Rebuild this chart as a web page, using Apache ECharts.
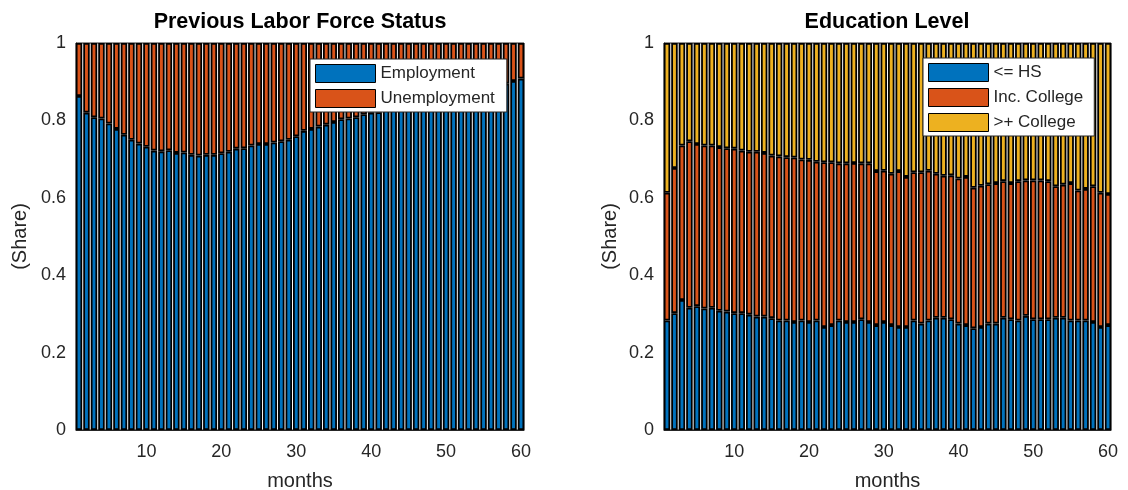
<!DOCTYPE html>
<html>
<head>
<meta charset="utf-8">
<script src="https://cdn.jsdelivr.net/npm/echarts@6/dist/echarts.min.js"></script>
<style>
  html, body { margin: 0; padding: 0; background: #fff; }
  #chart { width: 1128px; height: 490px; }
</style>
</head>
<body>
<div id="chart"></div>
<script>
// Month index 1..60 shared by both panels
const months = Array.from({ length: 60 }, (_, i) => i + 1);
const xTicks = [10, 20, 30, 40, 50, 60];

// Previous labor force status shares
const employment = [
  0.863, 0.820, 0.808, 0.805, 0.792, 0.778, 0.763, 0.750, 0.740, 0.732,
  0.722, 0.720, 0.723, 0.716, 0.717, 0.711, 0.709, 0.711, 0.711, 0.715,
  0.719, 0.727, 0.728, 0.735, 0.739, 0.739, 0.743, 0.746, 0.750, 0.759,
  0.773, 0.778, 0.784, 0.789, 0.796, 0.803, 0.805, 0.808, 0.816, 0.820,
  0.821, 0.827, 0.832, 0.837, 0.842, 0.847, 0.851, 0.855, 0.859, 0.863,
  0.867, 0.871, 0.875, 0.879, 0.883, 0.887, 0.891, 0.895, 0.902, 0.908
];
const unemployment = [
  0.137, 0.180, 0.192, 0.195, 0.208, 0.222, 0.237, 0.250, 0.260, 0.268,
  0.278, 0.280, 0.277, 0.284, 0.283, 0.289, 0.291, 0.289, 0.289, 0.285,
  0.281, 0.273, 0.272, 0.265, 0.261, 0.261, 0.257, 0.254, 0.250, 0.241,
  0.227, 0.222, 0.216, 0.211, 0.204, 0.197, 0.195, 0.192, 0.184, 0.180,
  0.179, 0.173, 0.168, 0.163, 0.158, 0.153, 0.149, 0.145, 0.141, 0.137,
  0.133, 0.129, 0.125, 0.121, 0.117, 0.113, 0.109, 0.105, 0.098, 0.092
];

// Education level shares
const highSchool = [
  0.283, 0.302, 0.336, 0.316, 0.320, 0.314, 0.316, 0.308, 0.306, 0.302,
  0.302, 0.298, 0.293, 0.293, 0.289, 0.283, 0.283, 0.279, 0.283, 0.279,
  0.283, 0.266, 0.271, 0.283, 0.279, 0.279, 0.286, 0.279, 0.271, 0.279,
  0.271, 0.266, 0.266, 0.283, 0.275, 0.283, 0.290, 0.290, 0.286, 0.275,
  0.271, 0.263, 0.266, 0.275, 0.275, 0.290, 0.286, 0.283, 0.295, 0.286,
  0.286, 0.286, 0.290, 0.290, 0.283, 0.283, 0.283, 0.279, 0.266, 0.271
];
const incCollege = [
  0.330, 0.375, 0.399, 0.430, 0.419, 0.421, 0.419, 0.423, 0.422, 0.425,
  0.420, 0.421, 0.426, 0.423, 0.420, 0.424, 0.422, 0.425, 0.416, 0.419,
  0.410, 0.426, 0.421, 0.406, 0.410, 0.411, 0.403, 0.410, 0.398, 0.391,
  0.391, 0.403, 0.388, 0.383, 0.391, 0.387, 0.372, 0.367, 0.372, 0.375,
  0.383, 0.363, 0.365, 0.360, 0.363, 0.353, 0.352, 0.360, 0.350, 0.359,
  0.359, 0.357, 0.340, 0.344, 0.355, 0.336, 0.340, 0.351, 0.347, 0.339
];
const college = [
  0.387, 0.323, 0.265, 0.254, 0.261, 0.265, 0.265, 0.269, 0.272, 0.273,
  0.278, 0.281, 0.281, 0.284, 0.291, 0.293, 0.295, 0.296, 0.301, 0.302,
  0.307, 0.308, 0.308, 0.311, 0.311, 0.310, 0.311, 0.311, 0.331, 0.330,
  0.338, 0.331, 0.346, 0.334, 0.334, 0.330, 0.338, 0.343, 0.342, 0.350,
  0.346, 0.374, 0.369, 0.365, 0.362, 0.357, 0.362, 0.357, 0.355, 0.355,
  0.355, 0.357, 0.370, 0.366, 0.362, 0.381, 0.377, 0.370, 0.387, 0.390
];

const BLUE = '#0072BD', ORANGE = '#D95319', YELLOW = '#EDB120';
const AX = '#262626';
const FONT = 'Liberation Sans, Arial, Helvetica, sans-serif';

// Rows are [share, month] so the share column is the one that gets stacked.
const rows = vals => months.map((m, i) => [vals[i], m]);

function xAxisFor(gridIndex) {
  return {
    type: 'value', gridIndex, min: 0.6, max: 60.4,
    name: 'months', nameLocation: 'middle', nameGap: 41,
    nameTextStyle: { fontSize: 20, color: AX, fontFamily: FONT },
    axisLine: { show: true, lineStyle: { color: AX, width: 1 } },
    axisTick: { show: true, inside: true, length: 5, customValues: xTicks, lineStyle: { color: AX } },
    axisLabel: { customValues: xTicks, fontSize: 18, color: AX, margin: 13, fontFamily: FONT },
    splitLine: { show: false }
  };
}
function yAxisFor(gridIndex, gap) {
  return {
    type: 'value', gridIndex, min: 0, max: 1, interval: 0.2,
    name: '(Share)', nameLocation: 'middle', nameGap: gap, nameRotate: 90,
    nameTextStyle: { fontSize: 20, color: AX, fontFamily: FONT },
    axisLine: { show: true, lineStyle: { color: AX, width: 1 } },
    axisTick: { show: true, inside: true, length: 5, lineStyle: { color: AX } },
    axisLabel: { fontSize: 18, color: AX, margin: 10, fontFamily: FONT },
    splitLine: { show: false }
  };
}
function barSeries(name, vals, color, axisIndex, stack) {
  return {
    name, type: 'bar', stack, xAxisIndex: axisIndex, yAxisIndex: axisIndex,
    data: rows(vals), encode: { x: 1, y: 0 }, barWidth: 6.5,
    itemStyle: { color, borderColor: '#000', borderWidth: 1.8 },
    emphasis: { disabled: true }, animation: false
  };
}
function legendFor(names, left, top, padRight) {
  return {
    data: names, orient: 'vertical', left, top,
    itemWidth: 60, itemHeight: 18, itemGap: 6,
    padding: [5, padRight, 4, 5],
    backgroundColor: '#fff', borderColor: AX, borderWidth: 1,
    icon: 'rect',
    itemStyle: { borderColor: '#000', borderWidth: 1 },
    textStyle: { fontSize: 17, color: AX, fontFamily: FONT },
    selectedMode: false
  };
}
function gridAt(left, width) {
  return {
    left, top: 43, width, height: 387,
    outerBoundsMode: 'none', containLabel: false,
    show: true, borderColor: AX, borderWidth: 1, backgroundColor: 'transparent'
  };
}

const chart = echarts.init(document.getElementById('chart'), null, { renderer: 'canvas' });
chart.setOption({
  animation: false,
  textStyle: { fontFamily: FONT },
  title: [
    { text: 'Previous Labor Force Status', left: 300, top: 11, textAlign: 'center', padding: 0,
      textStyle: { fontSize: 21.5, fontWeight: 'bold', color: '#000', fontFamily: FONT } },
    { text: 'Education Level', left: 887, top: 11, textAlign: 'center', padding: 0,
      textStyle: { fontSize: 21.5, fontWeight: 'bold', color: '#000', fontFamily: FONT } }
  ],
  grid: [gridAt(76, 448), gridAt(664, 447)],
  xAxis: [xAxisFor(0), xAxisFor(1)],
  yAxis: [yAxisFor(0, 46), yAxisFor(1, 44)],
  legend: [
    legendFor(['Employment', 'Unemployment'], 310, 59, 12),
    legendFor(['<= HS', 'Inc. College', '>+ College'], 923, 58, 11)
  ],
  series: [
    barSeries('Employment', employment, BLUE, 0, 'lfs'),
    barSeries('Unemployment', unemployment, ORANGE, 0, 'lfs'),
    barSeries('<= HS', highSchool, BLUE, 1, 'edu'),
    barSeries('Inc. College', incCollege, ORANGE, 1, 'edu'),
    barSeries('>+ College', college, YELLOW, 1, 'edu')
  ]
});
</script>
</body>
</html>
